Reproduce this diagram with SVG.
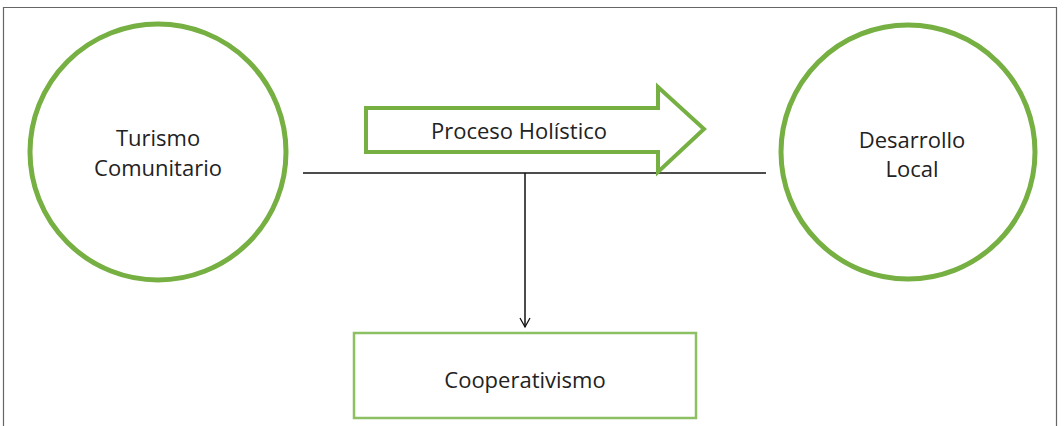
<svg xmlns="http://www.w3.org/2000/svg" width="1064" height="426" viewBox="0 0 1064 426">
<defs>
<style>
.lbl{font-family:"Open Sans","Noto Sans",sans-serif;font-size:22px;fill:#222;text-anchor:middle}
.node{fill:#fff;stroke:#76AF42}
.conn{stroke:#111;stroke-width:1.5;fill:none}
</style>
<marker id="ah" markerWidth="12" markerHeight="12" refX="10" refY="6" orient="auto" markerUnits="userSpaceOnUse">
<path d="M1,1 L10,6 L1,11" fill="none" stroke="#111" stroke-width="1.3"/>
</marker>
</defs>
<rect x="0" y="0" width="1064" height="426" fill="#fff"/>
<path d="M3.5,430 L3.5,7.5 L1056.5,7.5 L1056.5,430" fill="none" stroke="#666" stroke-width="1.2"/>
<g id="connectors">
<line class="conn" x1="303" y1="173" x2="766" y2="173"/>
<line class="conn" x1="525" y1="173" x2="525" y2="327" stroke-width="1.2" marker-end="url(#ah)"/>
</g>
<g id="turismo">
<circle class="node" cx="158" cy="152" r="128" stroke-width="5"/>
<text class="lbl" x="158" y="146">Turismo</text>
<text class="lbl" x="158" y="176">Comunitario</text>
</g>
<g id="desarrollo">
<circle class="node" cx="908" cy="152" r="127" stroke-width="5"/>
<text class="lbl" x="912" y="148">Desarrollo</text>
<text class="lbl" x="912" y="177">Local</text>
</g>
<g id="proceso">
<path class="node" stroke-width="4" d="M366,108 L658,108 L658,87 L704,129 L658,172 L658,152 L366,152 Z"/>
<text class="lbl" x="519" y="139">Proceso Holístico</text>
</g>
<g id="cooperativismo">
<rect x="354" y="333" width="342" height="85" fill="#fff" stroke="#8CC063" stroke-width="2.5"/>
<text class="lbl" x="525" y="388">Cooperativismo</text>
</g>
</svg>
